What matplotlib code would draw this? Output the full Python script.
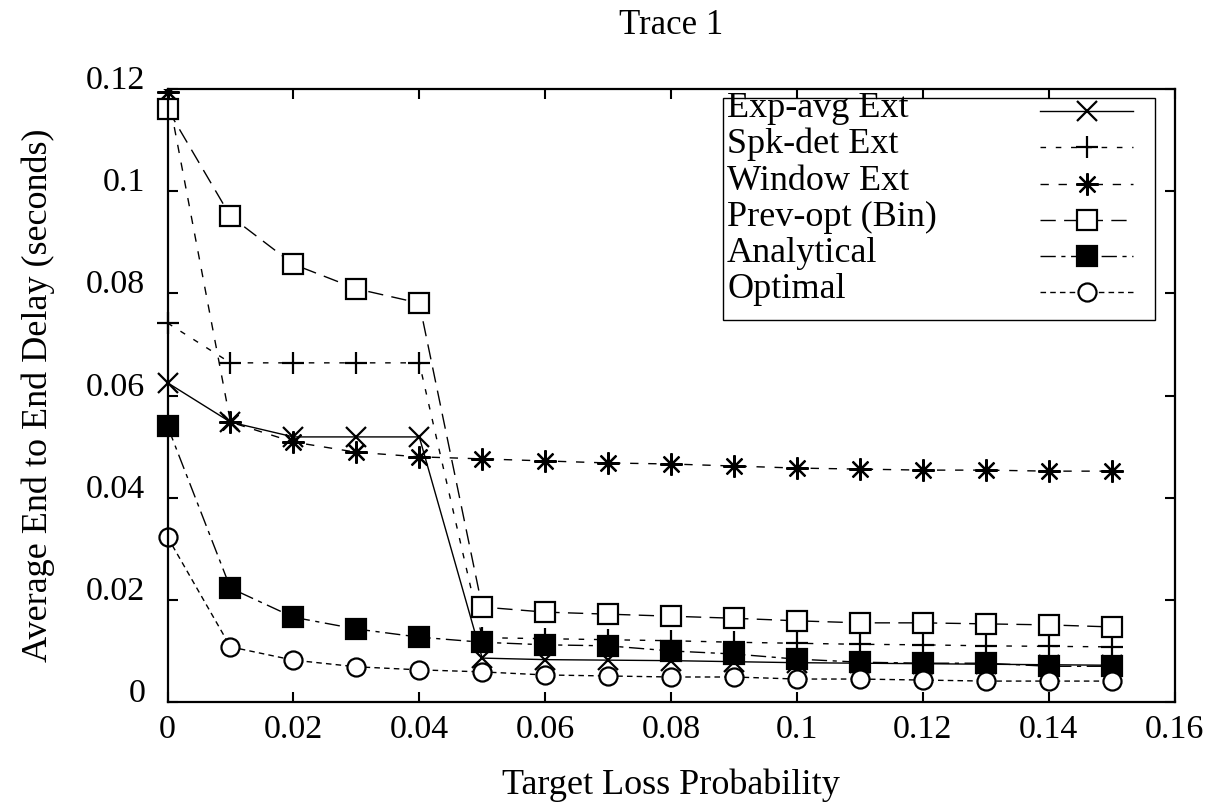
import numpy as np
import matplotlib
matplotlib.use("Agg")
import matplotlib.pyplot as plt
from matplotlib.lines import Line2D
from matplotlib.patches import Rectangle

plt.rcParams["font.family"] = ["Liberation Serif", "DejaVu Serif"]

# data
loss = [0.0, 0.01, 0.02, 0.03, 0.04, 0.05, 0.06, 0.07, 0.08,
        0.09, 0.10, 0.11, 0.12, 0.13, 0.14, 0.15]

exp_avg = [0.0625, 0.0548, 0.0519, 0.0519, 0.0519, 0.0086, 0.0083, 0.0082,
           0.0081, 0.0079, 0.0077, 0.0076, 0.0075, 0.0074, 0.0073, 0.0072]
spk_det = [0.0742, 0.0664, 0.0664, 0.0664, 0.0664, 0.0126, 0.0124, 0.0122,
           0.0120, 0.0117, 0.0115, 0.0113, 0.0112, 0.0110, 0.0109, 0.0108]
window = [0.1195, 0.0548, 0.0509, 0.0489, 0.0480, 0.0476, 0.0472, 0.0468,
          0.0466, 0.0462, 0.0458, 0.0456, 0.0454, 0.0454, 0.0452, 0.0452]
prev_opt = [0.1161, 0.0951, 0.0857, 0.0809, 0.0781, 0.0186, 0.0176, 0.0172,
            0.0168, 0.0164, 0.0159, 0.0155, 0.0155, 0.0153, 0.0151, 0.0147]
analytical = [0.0540, 0.0223, 0.0166, 0.0143, 0.0127, 0.0117, 0.0112, 0.0110,
              0.0100, 0.0094, 0.0084, 0.0078, 0.0076, 0.0076, 0.0070, 0.0070]
optimal = [0.0323, 0.0108, 0.0082, 0.0069, 0.0063, 0.0059, 0.0053, 0.0051,
           0.0049, 0.0049, 0.0045, 0.0045, 0.0043, 0.0041, 0.0041, 0.0041]

labels = ["Exp-avg Ext", "Spk-det Ext", "Window Ext", "Prev-opt (Bin)",
          "Analytical", "Optimal"]

# style per series: marker, size, face, dash pattern
styles = [
    dict(marker="x", ms=14, mfc="black", dashes=None),
    dict(marker="+", ms=16, mfc="black", dashes=(4, 7)),
    dict(marker=(8, 2, 0), ms=16, mfc="black", dashes=(6, 7)),
    dict(marker="s", ms=14, mfc="white", dashes=(11, 6)),
    dict(marker="s", ms=14, mfc="black", dashes=(11, 4, 3, 4)),
    dict(marker="o", ms=13, mfc="white", dashes=(4, 3)),
]
series = [exp_avg, spk_det, window, prev_opt, analytical, optimal]

fig = plt.figure(figsize=(12.14, 8.06), dpi=100)
ax = fig.add_axes([0.138, 0.129, 0.8295, 0.7605])

clip = Rectangle((-0.06, -0.06), 1.12, 1.06, transform=ax.transAxes,
                 facecolor="none", edgecolor="none")

for y, st in zip(series, styles):
    ln, = ax.plot(loss, y, color="black", lw=1.0, marker=st["marker"],
                  ms=st["ms"], mfc=st["mfc"], mec="black", mew=1.6)
    if st["dashes"] is not None:
        ln.set_dashes(st["dashes"])
    ln.set_clip_path(clip)

ax.set_xlim(0, 0.16)
ax.set_ylim(0, 0.12)
ax.set_xticks(np.arange(0, 0.161, 0.02))
ax.set_yticks(np.arange(0, 0.121, 0.02))
ax.set_xticklabels(["0", "0.02", "0.04", "0.06", "0.08", "0.1", "0.12", "0.14", "0.16"])
ax.set_yticklabels(["0", "0.02", "0.04", "0.06", "0.08", "0.1", "0.12"])
ax.tick_params(direction="in", length=7, width=1.5, top=True, right=True,
               labelsize=24.5)
ax.tick_params(axis="x", pad=9)
ax.tick_params(axis="y", pad=16)
for t in ax.get_yticklabels():
    t.set_verticalalignment("baseline")
for s in ax.spines.values():
    s.set_linewidth(1.6)

ax.set_xlabel("Target Loss Probability", fontsize=26, labelpad=17)
ax.set_ylabel("Average End to End Delay (seconds)", fontsize=26, labelpad=22)
ax.set_title("Trace 1", fontsize=25, pad=40)

# gnuplot-style key: text on the left, sample on the right
box = Rectangle((0.5516, 0.6232), 0.429, 0.3621, transform=ax.transAxes,
                facecolor="white", edgecolor="black", lw=1.0, zorder=5)
ax.add_patch(box)
rows = [0.9543, 0.8956, 0.8352, 0.7765, 0.7178, 0.6591]
for lab, st, yy in zip(labels, styles, rows):
    ax.text(0.5556, yy, lab, transform=ax.transAxes, fontsize=26,
            va="baseline", ha="left", zorder=6)
    h = Line2D([0.8664, 0.913, 0.9588], [yy + 0.01] * 3, transform=ax.transAxes,
               color="black", lw=1.0, marker=st["marker"], markevery=[1],
               ms=st["ms"], mfc=st["mfc"], mec="black", mew=1.6, zorder=6)
    if st["dashes"] is not None:
        h.set_dashes(st["dashes"])
    ax.add_line(h)

fig.savefig("out.png", dpi=100)
